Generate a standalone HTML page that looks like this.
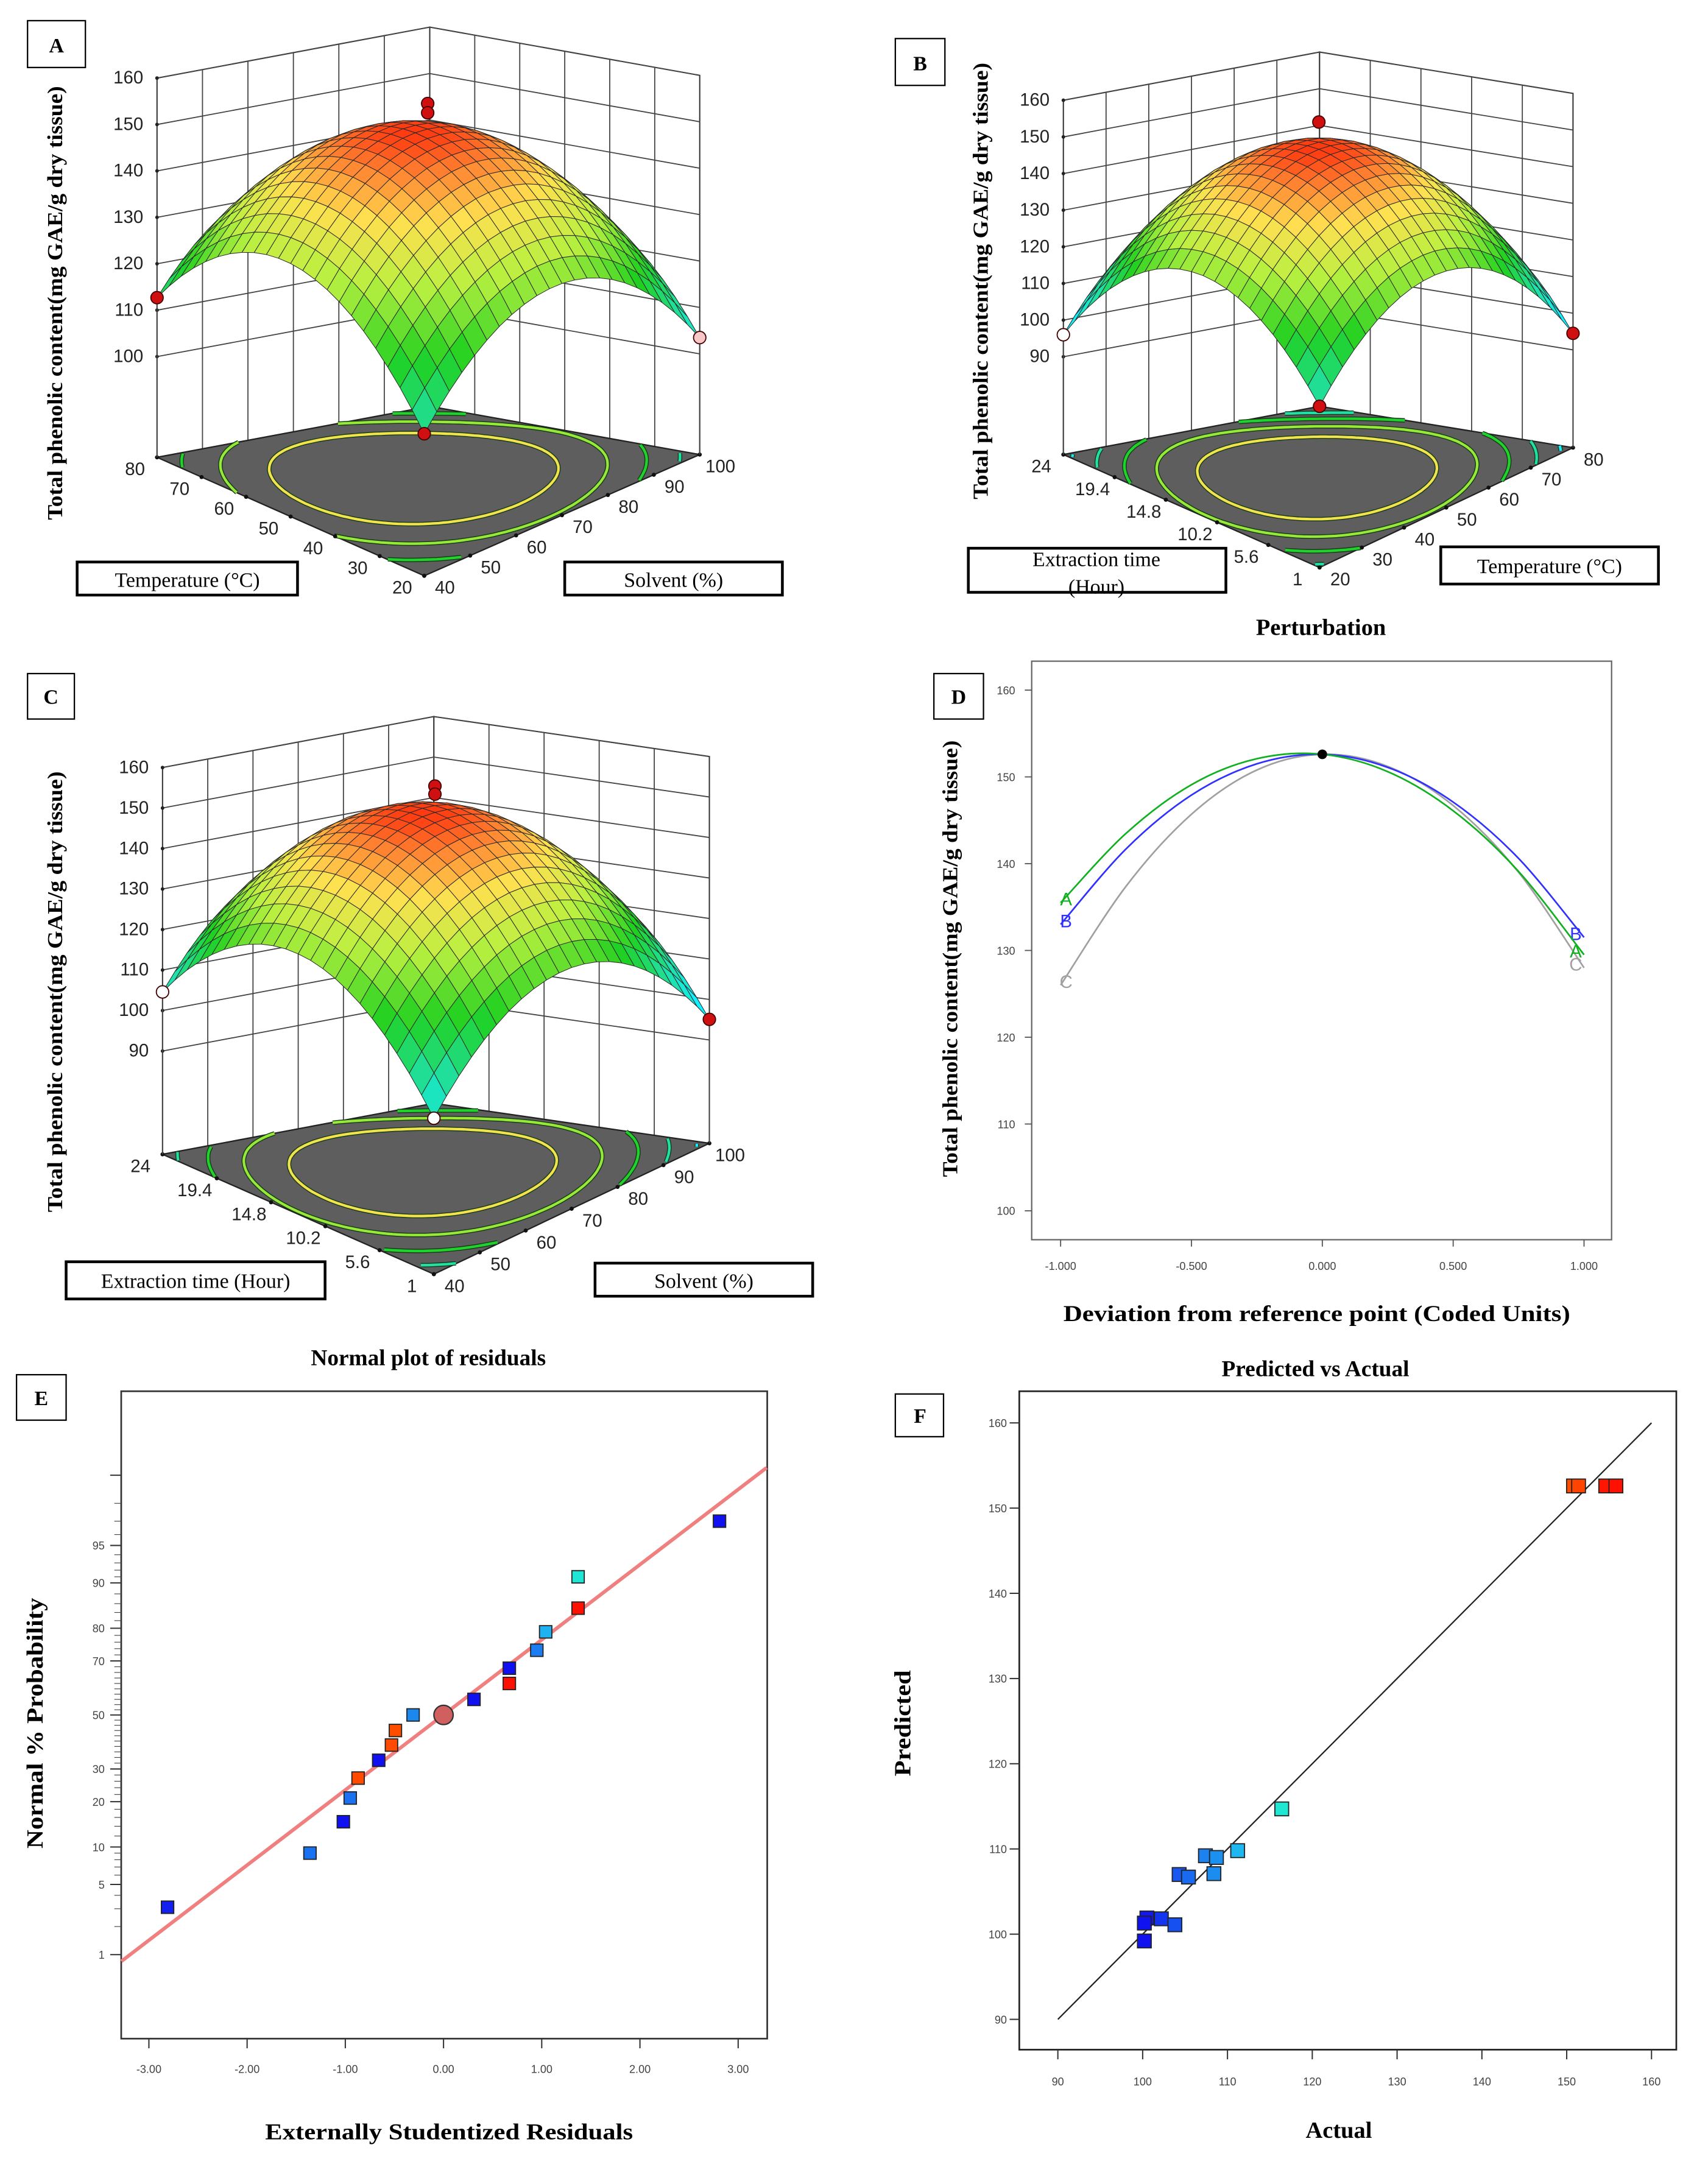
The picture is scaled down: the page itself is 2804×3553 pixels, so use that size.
<!DOCTYPE html>
<html><head><meta charset="utf-8"><style>
html,body{margin:0;padding:0;background:#fff;}
svg{display:block;}
.ser{font-family:"Liberation Serif",serif;}
.sans{font-family:"Liberation Sans",sans-serif;}
</style></head>
<body>
<svg id="fig" xmlns="http://www.w3.org/2000/svg" width="2804" height="3553" viewBox="0 0 1240 1571" preserveAspectRatio="none">
<rect x="0" y="0" width="1240" height="1571" fill="#fff"/>
<g id="gA"></g>
<g id="gB"></g>
<g id="gC"></g>
<g id="gD"></g>
<g id="gE"></g>
<g id="gF"></g>

<g class="ser" font-weight="bold">
<rect x="20" y="15" width="42" height="34" fill="#fff" stroke="#000" stroke-width="1"/>
<text x="41" y="38" font-size="15" text-anchor="middle">A</text>
<rect x="650" y="28" width="36" height="34" fill="#fff" stroke="#000" stroke-width="1"/>
<text x="668" y="51" font-size="15" text-anchor="middle">B</text>
<rect x="20" y="489" width="34" height="33" fill="#fff" stroke="#000" stroke-width="1"/>
<text x="37" y="511" font-size="15" text-anchor="middle">C</text>
<rect x="678" y="489" width="36" height="33" fill="#fff" stroke="#000" stroke-width="1"/>
<text x="696" y="511" font-size="15" text-anchor="middle">D</text>
<rect x="12" y="998" width="36" height="33" fill="#fff" stroke="#000" stroke-width="1"/>
<text x="30" y="1020" font-size="15" text-anchor="middle">E</text>
<rect x="650" y="1012" width="35" height="31" fill="#fff" stroke="#000" stroke-width="1"/>
<text x="668" y="1033" font-size="15" text-anchor="middle">F</text>

<text transform="translate(45,220) rotate(-90)" font-size="15.5" text-anchor="middle" textLength="315" lengthAdjust="spacingAndGlyphs">Total phenolic content(mg GAE/g dry tissue)</text>
<text transform="translate(717,204) rotate(-90)" font-size="15.5" text-anchor="middle" textLength="317" lengthAdjust="spacingAndGlyphs">Total phenolic content(mg GAE/g dry tissue)</text>
<text transform="translate(45,720) rotate(-90)" font-size="15.5" text-anchor="middle" textLength="320" lengthAdjust="spacingAndGlyphs">Total phenolic content(mg GAE/g dry tissue)</text>
<text transform="translate(695,696) rotate(-90)" font-size="15.5" text-anchor="middle" textLength="317" lengthAdjust="spacingAndGlyphs">Total phenolic content(mg GAE/g dry tissue)</text>
<text transform="translate(31,1251) rotate(-90)" font-size="17" text-anchor="middle" textLength="182" lengthAdjust="spacingAndGlyphs">Normal % Probability</text>
<text transform="translate(661,1251) rotate(-90)" font-size="17" text-anchor="middle" textLength="77" lengthAdjust="spacingAndGlyphs">Predicted</text>

<text x="959" y="461" font-size="17" text-anchor="middle">Perturbation</text>
<text x="956" y="959" font-size="16.5" text-anchor="middle" textLength="368" lengthAdjust="spacingAndGlyphs">Deviation from reference point (Coded Units)</text>
<text x="311" y="991" font-size="16.5" text-anchor="middle">Normal plot of residuals</text>
<text x="326" y="1553" font-size="16.5" text-anchor="middle" textLength="267" lengthAdjust="spacingAndGlyphs">Externally Studentized Residuals</text>
<text x="955" y="999" font-size="16.5" text-anchor="middle">Predicted vs Actual</text>
<text x="972" y="1552" font-size="17" text-anchor="middle">Actual</text>
</g>
<g class="ser" font-size="15">
<rect x="56" y="408" width="160" height="24" fill="#fff" stroke="#000" stroke-width="2"/>
<text x="136" y="426" text-anchor="middle">Temperature (°C)</text>
<rect x="410" y="408" width="158" height="24" fill="#fff" stroke="#000" stroke-width="2"/>
<text x="489" y="426" text-anchor="middle">Solvent (%)</text>
<rect x="703" y="398" width="187" height="32" fill="#fff" stroke="#000" stroke-width="2"/>
<text x="796" y="411" text-anchor="middle">Extraction  time</text>
<text x="796" y="431" text-anchor="middle">(Hour)</text>
<rect x="1046" y="397" width="158" height="27" fill="#fff" stroke="#000" stroke-width="2"/>
<text x="1125" y="416" text-anchor="middle">Temperature (°C)</text>
<rect x="48" y="916" width="188" height="27" fill="#fff" stroke="#000" stroke-width="2"/>
<text x="142" y="935" text-anchor="middle">Extraction  time (Hour)</text>
<rect x="432" y="917" width="158" height="24" fill="#fff" stroke="#000" stroke-width="2"/>
<text x="511" y="935" text-anchor="middle">Solvent (%)</text>
</g>
</svg>
<script>
const NS='http://www.w3.org/2000/svg';
// ---------- Data ----------
const surfACoef=[152.5,2.3,-2.3,22,22,0.4]; // c,a1,a2,b1,b2,d
const surfAZTicks=[100,110,120,130,140,150,160];
const surfALeftTicks=[20,30,40,50,60,70,80];
const surfARightTicks=[40,50,60,70,80,90,100];
const surfALevels=[140,130,120,110];
const surfB_Coef=[152.5,-2.4,-3.15,27,27,3.25];
const surfBZTicks=[90,100,110,120,130,140,150,160];
const surfBLeftTicks=['1','5.6','10.2','14.8','19.4','24'];
const surfBRightTicks=[20,30,40,50,60,70,80];
const surfBLevels=[140,130,120,110,100];
const surfCCoef=[152.5,3.45,-1.3,25,25,2.65];
const surfCZTicks=[90,100,110,120,130,140,150,160];
const surfCLeftTicks=['1','5.6','10.2','14.8','19.4','24'];
const surfCRightTicks=[40,50,60,70,80,90,100];
const surfCLevels=[140,130,120,110,100];
// Panel D perturbation
const pertX=[-1,-0.75,-0.5,-0.25,0,0.25,0.5,0.75,1];
const pertA=[135.5,143.5,149.1,152.1,152.6,150.6,146.1,139.1,129.5];
const pertB=[133,141.7,147.9,151.5,152.6,151.1,147.1,140.6,131.5];
const pertC=[126,137.4,145.7,150.8,152.6,151.2,146.7,139.0,128];
const pertYTicks=[100,110,120,130,140,150,160];
const pertXTicks=['-1.000','-0.500','0.000','0.500','1.000'];
// Panel E normal plot
const eRes=[-2.81,-1.36,-1.02,-0.95,-0.87,-0.66,-0.53,-0.49,-0.31,0.31,0.67,0.67,0.95,1.04,1.37,1.37,2.81];
const ePct=[3.1,9,15,21,27,33,38.5,44,50,56,62,67.5,73.5,79,85,91,97];
const eResp=[101,106,100,106,151,100,151,150.8,108,100,155,100,107,111,155,116,100];
const eLineRes=[-3.28,3.29];
const eLinePct=[0.84,99.18];
const eYTicks=[1,5,10,20,30,50,70,80,90,95];
const eXTicks=[-3,-2,-1,0,1,2,3];
// Panel F predicted vs actual
const fActual=[150.8,151.4,154.6,155.8,116.4,111.2,107.4,108.7,108.4,104.3,105.4,100.5,100.2,102.2,103.8,100.2];
const fPred=[152.6,152.6,152.6,152.6,114.7,109.8,109.2,109.0,107.1,107.0,106.7,101.9,101.3,101.8,101.1,99.2];
const fTicks=[90,100,110,120,130,140,150,160];

function el(parent,tag,attrs,name,text){
  const e=document.createElementNS(NS,tag);
  for(const k in attrs)e.setAttribute(k,attrs[k]);
  
  
  if(text!==undefined)e.textContent=text;
  parent.appendChild(e);return e;
}
function lerpC(a,b,t){const pa=[1,3,5].map(i=>parseInt(a.substr(i,2),16)),pb=[1,3,5].map(i=>parseInt(b.substr(i,2),16));
  return 'rgb('+pa.map((v,i)=>Math.round(v+(pb[i]-v)*t)).join(',')+')';}
function cmap(t,stops){t=Math.max(0,Math.min(1,t));for(let i=1;i<stops.length;i++){if(t<=stops[i][0]){const s=stops[i-1],e=stops[i];return lerpC(s[1],e[1],(t-s[0])/(e[0]-s[0]));}}return stops[stops.length-1][1];}
const SURF=[[0,'#10f0ff'],[0.2,'#20e0a0'],[0.4,'#20d020'],[0.62,'#b8f040'],[0.8,'#ffe050'],[0.93,'#ff8030'],[1,'#ff3a10']];
const PTS=[[0,'#1010f0'],[0.1,'#1a6cf0'],[0.18,'#1c9ef0'],[0.22,'#20c8f0'],[0.3,'#20e8d0'],[0.55,'#80e020'],[0.8,'#ffa000'],[0.9,'#ff6000'],[1,'#ff1000']];
function ptColor(v){return cmap((v-100)/55,PTS);}

function surface(g,cfg,coef,zt,lt,rt,levels){
  const [c,a1,a2,b1,b2,d]=coef;
  const Z=(u,v)=>c+a1*u+a2*v-b1*u*u-b2*v*v+d*u*v;
  const {F,L,R,B,k,zf}=cfg;
  const P=(u,v,z)=>{const s=(u+1)/2,t=(v+1)/2;
    const x=F[0]*(1-s)*(1-t)+L[0]*s*(1-t)+R[0]*(1-s)*t+B[0]*s*t;
    const y=F[1]*(1-s)*(1-t)+L[1]*s*(1-t)+R[1]*(1-s)*t+B[1]*s*t;
    return [x,y-(z-zf)*k];};
  const pts=a=>a.map(p=>p[0].toFixed(1)+','+p[1].toFixed(1)).join(' ');
  const ztop=zt[zt.length-1];
  el(g,'polygon',{points:pts([P(1,-1,zf),P(1,-1,ztop),P(1,1,ztop),P(1,1,zf)]),fill:'#fff',stroke:'#333','stroke-width':0.9},'left-back-wall');
  el(g,'polygon',{points:pts([P(-1,1,zf),P(-1,1,ztop),P(1,1,ztop),P(1,1,zf)]),fill:'#fff',stroke:'#333','stroke-width':0.9},'right-back-wall');
  const nR=rt.length-1,nL=lt.length-1;
  for(let i=1;i<nR;i++){const v=-1+2*i/nR;
    const a=P(1,v,zf),b=P(1,v,ztop);
    el(g,'line',{x1:a[0],y1:a[1],x2:b[0],y2:b[1],stroke:'#444','stroke-width':0.8},'left-wall-grid-line');}
  for(let i=1;i<nL;i++){const u=-1+2*i/nL;
    const a=P(u,1,zf),b=P(u,1,ztop);
    el(g,'line',{x1:a[0],y1:a[1],x2:b[0],y2:b[1],stroke:'#444','stroke-width':0.8},'right-wall-grid-line');}
  zt.forEach(z=>{
    const a=P(1,-1,z),b=P(1,1,z),e=P(-1,1,z);
    el(g,'polyline',{points:pts([a,b,e]),fill:'none',stroke:'#444','stroke-width':0.8},'wall-z-grid-line');
    el(g,'circle',{cx:a[0],cy:a[1],r:1.3,fill:'#222'},'z-tick');
    el(g,'text',{x:a[0]-10,y:a[1]+4,'font-size':13,'text-anchor':'end',fill:'#222',class:'sans'},'z-tick-label',String(z));
  });
  el(g,'polygon',{points:pts([P(-1,-1,zf),P(1,-1,zf),P(1,1,zf),P(-1,1,zf)]),fill:'#5e5e5e',stroke:'#222','stroke-width':1},'floor');
  levels.forEach(lv=>{
    let seg=[],segs=[];
    for(let a=0;a<=360;a+=2){const th=a*Math.PI/180,cu=Math.cos(th),cv=Math.sin(th);
      let lo=0,hi=3;for(let it=0;it<30;it++){const m=(lo+hi)/2;if(Z(m*cu,m*cv)>lv)lo=m;else hi=m;}
      const u=lo*cu,v=lo*cv;
      if(Math.abs(u)<=1&&Math.abs(v)<=1){seg.push(P(u,v,zf));}else{if(seg.length>1)segs.push(seg);seg=[];}}
    if(seg.length>1)segs.push(seg);
    const col=cmap((lv-100)/52.5,SURF);
    segs.forEach(s=>{el(g,'polyline',{points:pts(s),fill:'none',stroke:'#1a3a1a','stroke-width':3.2},'contour-shadow');
      el(g,'polyline',{points:pts(s),fill:'none',stroke:col,'stroke-width':1.9},'contour-line');});
  });
  lt.forEach((t,i)=>{const u=-1+2*i/nL;const p=P(u,-1,zf);
    el(g,'circle',{cx:p[0],cy:p[1],r:1.5,fill:'#111'},'left-axis-tick');
    el(g,'text',{x:p[0]-16,y:p[1]+13,'font-size':13,'text-anchor':'middle',fill:'#222',class:'sans'},'left-axis-tick-label',String(t));});
  rt.forEach((t,i)=>{const v=-1+2*i/nR;const p=P(-1,v,zf);
    el(g,'circle',{cx:p[0],cy:p[1],r:1.5,fill:'#111'},'right-axis-tick');
    el(g,'text',{x:p[0]+15,y:p[1]+13,'font-size':13,'text-anchor':'middle',fill:'#222',class:'sans'},'right-axis-tick-label',String(t));});
  const N=22,quads=[];
  for(let i=0;i<N;i++)for(let j=0;j<N;j++){
    const u0=-1+2*i/N,u1=-1+2*(i+1)/N,v0=-1+2*j/N,v1=-1+2*(j+1)/N;
    quads.push([u0,u1,v0,v1,(u0+u1+v0+v1)/2]);}
  quads.sort((a,b)=>b[4]-a[4]);
  quads.forEach(q=>{const [u0,u1,v0,v1]=q;
    const zs=[Z(u0,v0),Z(u1,v0),Z(u1,v1),Z(u0,v1)];
    const zm=(zs[0]+zs[1]+zs[2]+zs[3])/4;
    const poly=[P(u0,v0,zs[0]),P(u1,v0,zs[1]),P(u1,v1,zs[2]),P(u0,v1,zs[3])];
    el(g,'polygon',{points:pts(poly),fill:cmap((zm-100)/52.5,SURF),stroke:'#2a2a2a','stroke-width':0.45,'stroke-linejoin':'round'},'surface-patch');});
  [[1,-1],[-1,1]].forEach(([u,v])=>{const a=P(u,v,zf),b=P(u,v,Z(u,v));
    el(g,'line',{x1:a[0],y1:a[1],x2:b[0],y2:b[1],stroke:'#444','stroke-width':0.8},'corner-edge');});
  return {P,Z};
}
function dot(g,p,fill,name){el(g,'circle',{cx:p[0],cy:p[1],r:4.5,fill:fill,stroke:'#400','stroke-width':0.8},name);}

(function(){const g=document.getElementById('gA');
  const s=surface(g,{F:[308,418],L:[114,332],R:[508,330],B:[312,295],k:3.37,zf:78.3},surfACoef,surfAZTicks,surfALeftTicks,surfARightTicks,surfALevels);
  dot(g,s.P(1,-1,s.Z(1,-1)),'#d01010','design-point');
  dot(g,s.P(-1,1,s.Z(-1,1)),'#f8c8c8','design-point');
  dot(g,s.P(-1,-1,s.Z(-1,-1)),'#d01010','design-point');
  dot(g,s.P(0,0,158),'#d01010','design-point');dot(g,s.P(0,0,156),'#d01010','design-point');
})();
(function(){const g=document.getElementById('gB');
  const s=surface(g,{F:[958,412],L:[772,330],R:[1142,325],B:[958,295],k:2.66,zf:63.3},surfB_Coef,surfBZTicks,surfBLeftTicks,surfBRightTicks,surfBLevels);
  dot(g,s.P(1,-1,s.Z(1,-1)),'#fff','design-point');
  dot(g,s.P(-1,1,s.Z(-1,1)),'#d01010','design-point');
  dot(g,s.P(-1,-1,s.Z(-1,-1)),'#d01010','design-point');
  dot(g,s.P(0,0,158),'#d01010','design-point');
})();
(function(){const g=document.getElementById('gC');
  const s=surface(g,{F:[315,925],L:[118,838],R:[515,830],B:[315,801],k:2.94,zf:64.5},surfCCoef,surfCZTicks,surfCLeftTicks,surfCRightTicks,surfCLevels);
  dot(g,s.P(1,-1,s.Z(1,-1)),'#fff','design-point');
  dot(g,s.P(-1,1,s.Z(-1,1)),'#d01010','design-point');
  dot(g,s.P(-1,-1,s.Z(-1,-1)),'#fff','design-point');
  dot(g,s.P(0,0,159),'#d01010','design-point');dot(g,s.P(0,0,157),'#d01010','design-point');
})();
(function(){const g=document.getElementById('gD');
  const X=x=>960+x*190,Y=v=>879-(v-100)*6.3;
  el(g,'rect',{x:749,y:480,width:421,height:420,fill:'#fff',stroke:'#666','stroke-width':1},'plot-frame');
  pertYTicks.forEach(v=>{el(g,'line',{x1:749,y1:Y(v),x2:744,y2:Y(v),stroke:'#555','stroke-width':0.8},'y-tick');
    el(g,'text',{x:737,y:Y(v)+3,'font-size':8,'text-anchor':'end',fill:'#444',class:'sans'},'y-tick-label',String(v));});
  pertXTicks.forEach(t=>{const x=X(parseFloat(t));el(g,'line',{x1:x,y1:900,x2:x,y2:905,stroke:'#555','stroke-width':0.8},'x-tick');
    el(g,'text',{x:x,y:922,'font-size':8,'text-anchor':'middle',fill:'#444',class:'sans'},'x-tick-label',t);});
  const series=[[pertC,'#a0a0a0','C'],[pertB,'#3030ff','B'],[pertA,'#10b020','A']];
  series.forEach(([arr,col,lab])=>{
    const n=pertX.length;
    const pts=pertX.map((x,i)=>[X(x),Y(arr[i])]);
    let dstr='M'+pts[0].join(',');
    for(let i=0;i<n-1;i++){const p0=pts[Math.max(0,i-1)],p1=pts[i],p2=pts[i+1],p3=pts[Math.min(n-1,i+2)];
      dstr+=' C'+(p1[0]+(p2[0]-p0[0])/6).toFixed(1)+','+(p1[1]+(p2[1]-p0[1])/6).toFixed(1)+' '+(p2[0]-(p3[0]-p1[0])/6).toFixed(1)+','+(p2[1]-(p3[1]-p1[1])/6).toFixed(1)+' '+p2[0].toFixed(1)+','+p2[1].toFixed(1);}
    el(g,'path',{d:dstr,fill:'none',stroke:col,'stroke-width':1.2},'perturbation-curve-'+lab.toLowerCase());
    el(g,'text',{x:pts[0][0]+4,y:pts[0][1]+2,'font-size':13,fill:col,'text-anchor':'middle',class:'sans'},'curve-label-'+lab.toLowerCase()+'-left',lab);
    el(g,'text',{x:pts[n-1][0]-6,y:pts[n-1][1]+2,'font-size':13,fill:col,'text-anchor':'middle',class:'sans'},'curve-label-'+lab.toLowerCase()+'-right',lab);
  });
  el(g,'circle',{cx:X(0),cy:Y(pertA[4]),r:3.5,fill:'#000'},'reference-point');
})();
function probit(p){
  const a=[-39.6968302866538,220.946098424521,-275.928510446969,138.357751867269,-30.6647980661472,2.50662827745924];
  const b=[-54.4760987982241,161.585836858041,-155.698979859887,66.8013118877197,-13.2806815528857];
  const c=[-0.00778489400243029,-0.322396458041136,-2.40075827716184,-2.54973253934373,4.37466414146497,2.93816398269878];
  const d=[0.00778469570904146,0.32246712907004,2.445134137143,3.75440866190742];
  const pl=0.02425;let q,r;
  if(p<pl){q=Math.sqrt(-2*Math.log(p));return (((((c[0]*q+c[1])*q+c[2])*q+c[3])*q+c[4])*q+c[5])/((((d[0]*q+d[1])*q+d[2])*q+d[3])*q+1);}
  if(p>1-pl){q=Math.sqrt(-2*Math.log(1-p));return -(((((c[0]*q+c[1])*q+c[2])*q+c[3])*q+c[4])*q+c[5])/((((d[0]*q+d[1])*q+d[2])*q+d[3])*q+1);}
  q=p-0.5;r=q*q;return (((((a[0]*r+a[1])*r+a[2])*r+a[3])*r+a[4])*r+a[5])*q/(((((b[0]*r+b[1])*r+b[2])*r+b[3])*r+b[4])*r+1);}
(function(){const g=document.getElementById('gE');
  const X=r=>322+r*71.3,Y=p=>1245-probit(p/100)*74.8;
  el(g,'rect',{x:88,y:1010,width:469,height:470,fill:'#fff',stroke:'#333','stroke-width':1.2},'plot-frame');
  const minor=[1,2,3,4,5,6,7,8,9,10,12,14,16,18,20,22,24,26,28,30,32,34,36,38,40,42,44,46,48,50,52,54,56,58,60,62,64,66,68,70,72,74,76,78,80,82,84,86,88,90,91,92,93,94,95,96,97,98,99];
  minor.forEach(p=>el(g,'line',{x1:83,y1:Y(p),x2:88,y2:Y(p),stroke:'#444','stroke-width':0.5},'y-minor-tick'));
  el(g,'line',{x1:80,y1:Y(99),x2:88,y2:Y(99),stroke:'#333','stroke-width':0.9},'y-top-tick');
  eYTicks.forEach(p=>{el(g,'line',{x1:80,y1:Y(p),x2:88,y2:Y(p),stroke:'#333','stroke-width':0.9},'y-tick');
    el(g,'text',{x:76,y:Y(p)+3,'font-size':8,'text-anchor':'end',fill:'#444',class:'sans'},'y-tick-label',String(p));});
  eXTicks.forEach(t=>{el(g,'line',{x1:X(t),y1:1480,x2:X(t),y2:1487,stroke:'#333','stroke-width':0.9},'x-tick');
    el(g,'text',{x:X(t),y:1505,'font-size':8,'text-anchor':'middle',fill:'#444',class:'sans'},'x-tick-label',t.toFixed(2));});
  el(g,'line',{x1:X(eLineRes[0]),y1:Y(eLinePct[0]),x2:X(eLineRes[1]),y2:Y(eLinePct[1]),stroke:'#f08080','stroke-width':2.6},'normal-fit-line');
  eRes.forEach((r,i)=>{el(g,'rect',{x:X(r)-4.5,y:Y(ePct[i])-4.5,width:9,height:9,fill:ptColor(eResp[i]),stroke:'#222','stroke-width':0.8},'residual-point');});
  el(g,'circle',{cx:X(0),cy:Y(50),r:7,fill:'#d06060',stroke:'#333','stroke-width':1},'center-point');
})();
(function(){const g=document.getElementById('gF');
  const X=a=>768+(a-90)*6.157,Y=p=>1466-(p-90)*6.186;
  el(g,'rect',{x:740,y:1010,width:477,height:478,fill:'#fff',stroke:'#222','stroke-width':1.2},'plot-frame');
  fTicks.forEach(t=>{el(g,'line',{x1:733,y1:Y(t),x2:740,y2:Y(t),stroke:'#333','stroke-width':0.9},'y-tick');
    el(g,'text',{x:731,y:Y(t)+3,'font-size':8,'text-anchor':'end',fill:'#444',class:'sans'},'y-tick-label',String(t));
    el(g,'line',{x1:X(t),y1:1488,x2:X(t),y2:1495,stroke:'#333','stroke-width':0.9},'x-tick');
    el(g,'text',{x:X(t),y:1514,'font-size':8,'text-anchor':'middle',fill:'#444',class:'sans'},'x-tick-label',String(t));});
  el(g,'line',{x1:X(fTicks[0]),y1:Y(fTicks[0]),x2:X(fTicks[fTicks.length-1]),y2:Y(fTicks[fTicks.length-1]),stroke:'#222','stroke-width':1},'identity-line');
  fActual.forEach((a,i)=>{el(g,'rect',{x:X(a)-5,y:Y(fPred[i])-5,width:10,height:10,fill:ptColor(a),stroke:'#222','stroke-width':0.8},'data-point');});
})();
</script>
</body></html>
